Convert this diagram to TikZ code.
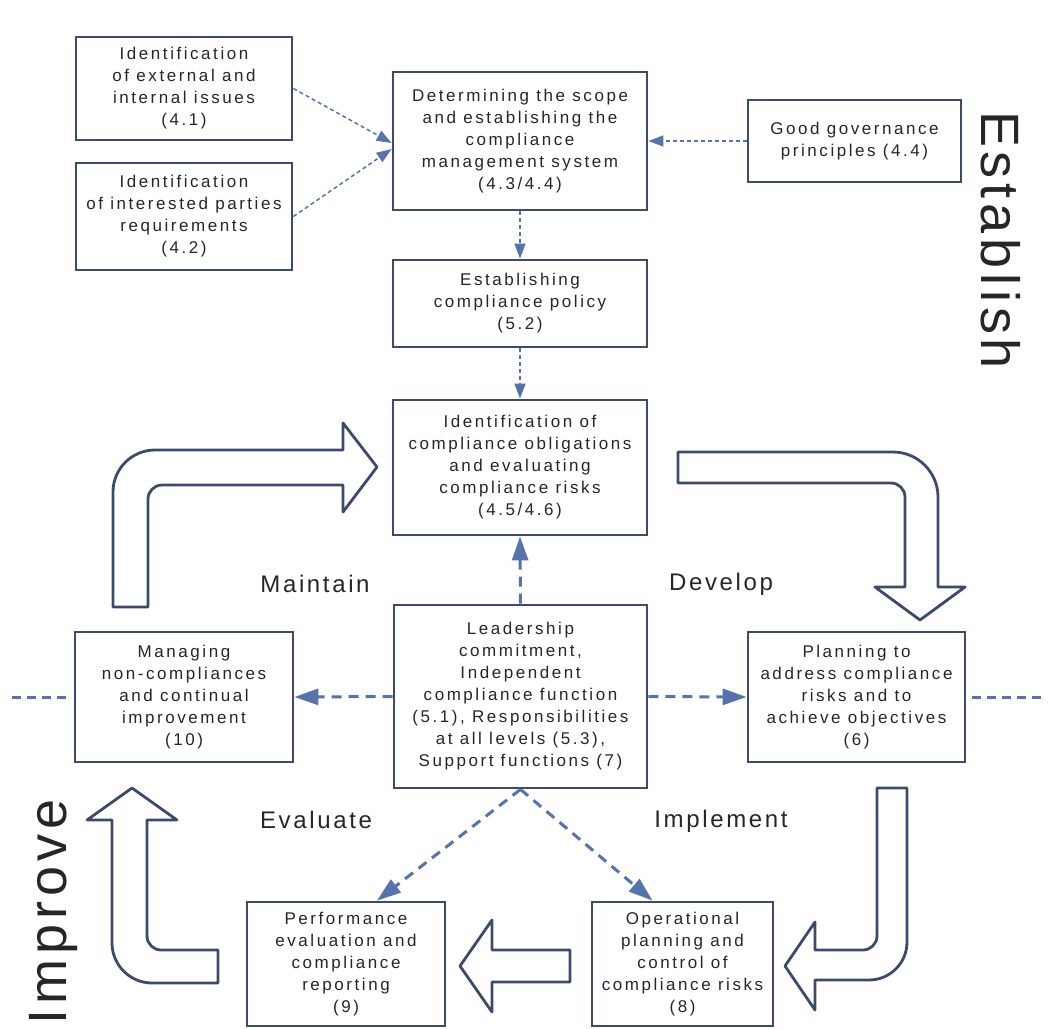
\documentclass[tikz,border=0pt]{standalone}
\usepackage{fontspec}
\setmainfont{Liberation Sans}
\newfontfamily\boxfont{Liberation Sans}[LetterSpace=15]
\newfontfamily\labfont{Liberation Sans}[LetterSpace=11]
\newfontfamily\bigfont{Liberation Sans}[LetterSpace=9]
\usetikzlibrary{arrows.meta,calc}
\definecolor{bordercol}{HTML}{3C4A6C}
\definecolor{dashcol}{HTML}{5573AD}
\definecolor{textcol}{HTML}{262626}
\begin{document}
\begin{tikzpicture}[x=1pt,y=-1pt,
  box/.style={draw=bordercol, line width=2.8pt, fill=white, align=center, text=textcol,
    font=\boxfont\fontsize{17pt}{22pt}\selectfont, inner sep=0pt},
  thinarrow/.style={draw=dashcol, line width=1.5pt, dash pattern=on 4pt off 3pt,
    -{Triangle[length=15pt,width=11pt]}},
  thickarrow/.style={draw=dashcol, line width=3pt, dash pattern=on 10pt off 7pt,
    -{Triangle[length=24pt,width=16pt]}},
  thickline/.style={draw=dashcol, line width=3pt, dash pattern=on 9pt off 6pt},
  blockarrow/.style={draw=bordercol, line width=2.8pt, fill=white, line join=round},
  phase/.style={font=\labfont\fontsize{24pt}{27pt}\selectfont, text=textcol, anchor=base},
  bigtxt/.style={font=\bigfont\fontsize{54pt}{58pt}\selectfont, text=textcol, anchor=base}]
\fill[white] (0,0) rectangle (1052,1028);
\useasboundingbox (0,0) rectangle (1052,1028);

% block arrows
\draw[blockarrow] (113,607) -- (113,492) .. controls (113,468.8) and (131.8,450) .. (155,450)
  -- (343,450) -- (343,423) -- (377,467) -- (343,512) -- (343,485) -- (162,485)
  .. controls (154.3,485) and (148,491.3) .. (148,499) -- (148,607) -- cycle;
\draw[blockarrow] (678,452) -- (893,452) .. controls (917.8,452) and (938,472.2) .. (938,497)
  -- (938,587) -- (965,587) -- (920,620) -- (875,587) -- (905,587) -- (905,497)
  .. controls (905,489.3) and (898.7,483) .. (891,483) -- (678,483) -- cycle;
\draw[blockarrow] (877,788) -- (907,788) -- (907,942) .. controls (907,963) and (890,980) .. (869,980)
  -- (815,980) -- (815,1010) -- (785,966) -- (815,922) -- (815,950) -- (863,950)
  .. controls (870.7,950) and (877,943.7) .. (877,936) -- cycle;
\draw[blockarrow] (570,950) -- (492,950) -- (492,920) -- (460,966) -- (492,1012)
  -- (492,982) -- (570,982) -- cycle;
\draw[blockarrow] (147,820) -- (177,820) -- (132,788) -- (87,820) -- (112,820) -- (112,943)
  .. controls (112,965) and (130,983) .. (152,983) -- (218,983) -- (218,950) -- (161,950)
  .. controls (153.3,950) and (147,943.7) .. (147,936) -- cycle;

% boxes
\node[box, minimum width=216pt, minimum height=103pt] (A) at (184,88.5)
  {Identification\\of external and\\internal issues\\(4.1)};
\node[box, minimum width=216pt, minimum height=107pt] (B) at (184,216.5)
  {Identification\\of interested parties\\requirements\\(4.2)};
\node[box, minimum width=254pt, minimum height=138pt] (C) at (520,141)
  {Determining the scope\\and establishing the\\compliance\\management system\\(4.3/4.4)};
\node[box, minimum width=254pt, minimum height=87pt] (D) at (520,303.5)
  {Establishing\\compliance policy\\(5.2)};
\node[box, minimum width=254pt, minimum height=135pt] (E) at (520,467.5)
  {Identification of\\compliance obligations\\and evaluating\\compliance risks\\(4.5/4.6)};
\node[box, minimum width=213pt, minimum height=82pt] (F) at (854.5,141)
  {Good governance\\principles (4.4)};
\node[box, minimum width=253pt, minimum height=183pt] (G) at (520.5,696.5)
  {Leadership\\commitment,\\Independent\\compliance function\\(5.1), Responsibilities\\at all levels (5.3),\\Support functions (7)};
\node[box, minimum width=218pt, minimum height=130pt] (H) at (184,697)
  {Managing\\non-compliances\\and continual\\improvement\\(10)};
\node[box, minimum width=217pt, minimum height=130pt] (I) at (856.5,697)
  {Planning to\\address compliance\\risks and to\\achieve objectives\\(6)};
\node[box, minimum width=198pt, minimum height=124pt] (J) at (346,964)
  {Performance\\evaluation and\\compliance\\reporting\\(9)};
\node[box, minimum width=181pt, minimum height=124pt] (K) at (682.5,964)
  {Operational\\planning and\\control of\\compliance risks\\(8)};

% connectors
\draw[thinarrow] (A.east) -- ($(C.west)+(0,2)$);
\draw[thinarrow] (B.east) -- ($(C.west)+(0,8)$);
\draw[thinarrow] (F.west) -- (C.east);
\draw[thinarrow] (C.south) -- (D.north);
\draw[thinarrow] (D.south) -- (E.north);
\draw[thickarrow] (G.north) -- (E.south);
\draw[thickarrow] (G.west) -- (H.east);
\draw[thickarrow] (G.east) -- (I.west);
\draw[thickarrow] (G.south) -- ($(J.north)+(31,0)$);
\draw[thickarrow] (G.south) -- ($(K.north)+(-30,0)$);
\coordinate (LL) at (8,697);
\coordinate (RR) at (1044,697);
\draw[thickline, shorten <=8pt] (H.west) -- (LL);
\draw[thickline, shorten <=6pt] (I.east) -- (RR);

% labels
\node[phase] (lm) at (315,592) {Maintain};
\node[phase] (ld) at (721,590) {Develop};
\node[phase] (le) at (316,828) {Evaluate};
\node[phase] (li) at (721,827) {Implement};
\node[bigtxt, rotate=-90] (les) at (981,240) {Establish};
\node[bigtxt, rotate=90] (lim) at (66,912) {Improve};
\end{tikzpicture}
\end{document}
